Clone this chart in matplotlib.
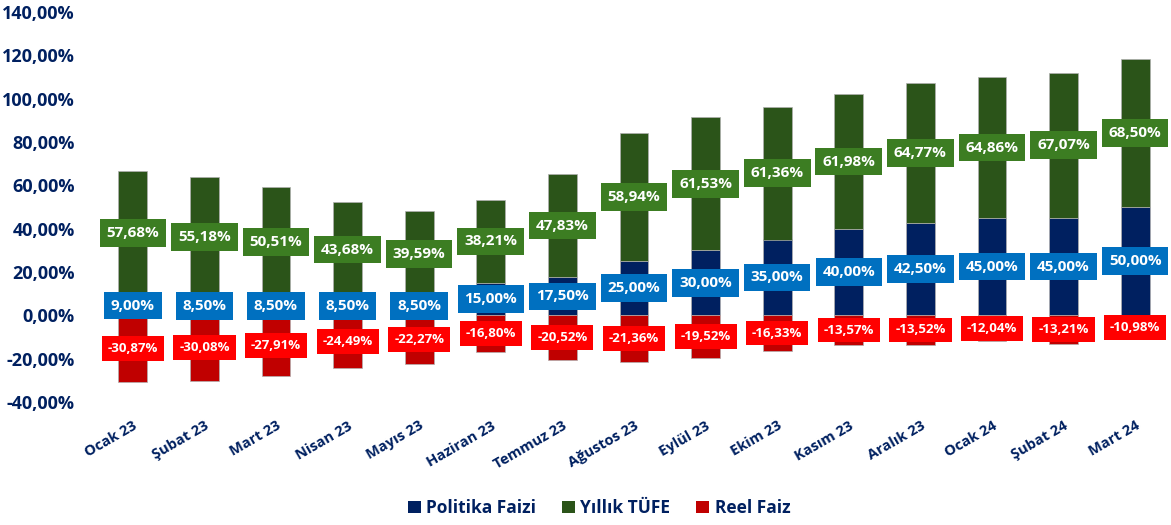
import matplotlib
matplotlib.use("Agg")
import matplotlib.pyplot as plt
import numpy as np

months = ["Ocak 23", "Şubat 23", "Mart 23", "Nisan 23", "Mayıs 23", "Haziran 23",
          "Temmuz 23", "Ağustos 23", "Eylül 23", "Ekim 23", "Kasım 23", "Aralık 23",
          "Ocak 24", "Şubat 24", "Mart 24"]
politika = [9.00, 8.50, 8.50, 8.50, 8.50, 15.00, 17.50, 25.00, 30.00, 35.00,
            40.00, 42.50, 45.00, 45.00, 50.00]
tufe = [57.68, 55.18, 50.51, 43.68, 39.59, 38.21, 47.83, 58.94, 61.53, 61.36,
        61.98, 64.77, 64.86, 67.07, 68.50]
reel = [-30.87, -30.08, -27.91, -24.49, -22.27, -16.80, -20.52, -21.36, -19.52,
        -16.33, -13.57, -13.52, -12.04, -13.21, -10.98]
yticks = [-40, -20, 0, 20, 40, 60, 80, 100, 120, 140]

NAVY = "#002060"
GREEN = "#2B5419"
RED = "#C00000"
BOX_BLUE = "#0070C0"
BOX_GREEN = "#3C7D22"
BOX_RED = "#FF0000"
FONT = "Open Sans"

plt.rcParams['font.family'] = [FONT, 'DejaVu Sans']

def fmt(v):
    return f"{v:.2f}".replace(".", ",") + "%"

fig = plt.figure(figsize=(11.71, 5.25), dpi=100)
ax = fig.add_axes([97 / 1171, 1 - 402 / 525, 1 - 97 / 1171, (402 - 12) / 525])

x = np.arange(len(months))
w = 0.40
ec = "#B0B0B0"
b1 = ax.bar(x, politika, w, color=NAVY, edgecolor=ec, linewidth=0.5, label="Politika Faizi")
b2 = ax.bar(x, tufe, w, bottom=politika, color=GREEN, edgecolor=ec, linewidth=0.5, label="Yıllık TÜFE")
b3 = ax.bar(x, reel, w, color=RED, edgecolor=ec, linewidth=0.5, label="Reel Faiz")

for i in range(len(months)):
    ax.text(x[i], politika[i] / 2, fmt(politika[i]), ha="center", va="center",
            color="white", fontsize=11, fontweight="bold", zorder=5,
            bbox=dict(boxstyle="square,pad=0.45", fc=BOX_BLUE, ec="none"))
    ax.text(x[i], politika[i] + tufe[i] / 2, fmt(tufe[i]), ha="center", va="center",
            color="white", fontsize=11, fontweight="bold", zorder=5,
            bbox=dict(boxstyle="square,pad=0.45", fc=BOX_GREEN, ec="none"))
    ax.text(x[i], reel[i] / 2, fmt(reel[i]), ha="center", va="center",
            color="white", fontsize=9.5, fontweight="bold", zorder=5,
            bbox=dict(boxstyle="square,pad=0.45", fc=BOX_RED, ec="none"))

ax.set_xlim(-0.5, len(months) - 0.5)
ax.set_ylim(-40, 140)
ax.set_yticks(yticks)
ax.set_yticklabels([fmt(v) for v in yticks], fontsize=13, fontweight="bold", color=NAVY)
ax.set_xticks(x)
ax.set_xticklabels(months, rotation=30, ha="right", rotation_mode="anchor",
                   fontsize=10.5, fontweight="bold", color=NAVY)
ax.tick_params(axis="y", length=0, pad=16)
ax.tick_params(axis="x", length=0, pad=12)
for s in ax.spines.values():
    s.set_visible(False)

leg = fig.legend(handles=[b1, b2, b3], loc="center", bbox_to_anchor=(599 / 1171, 1 - 508 / 525),
                 ncol=3, frameon=False, handlelength=0.75, handleheight=0.75,
                 columnspacing=1.5, handletextpad=0.3,
                 prop=dict(family=FONT, weight="bold", size=12.5))
for t in leg.get_texts():
    t.set_color(NAVY)
for h in leg.legend_handles:
    h.set_edgecolor("none")

fig.savefig("out.png", dpi=100)
